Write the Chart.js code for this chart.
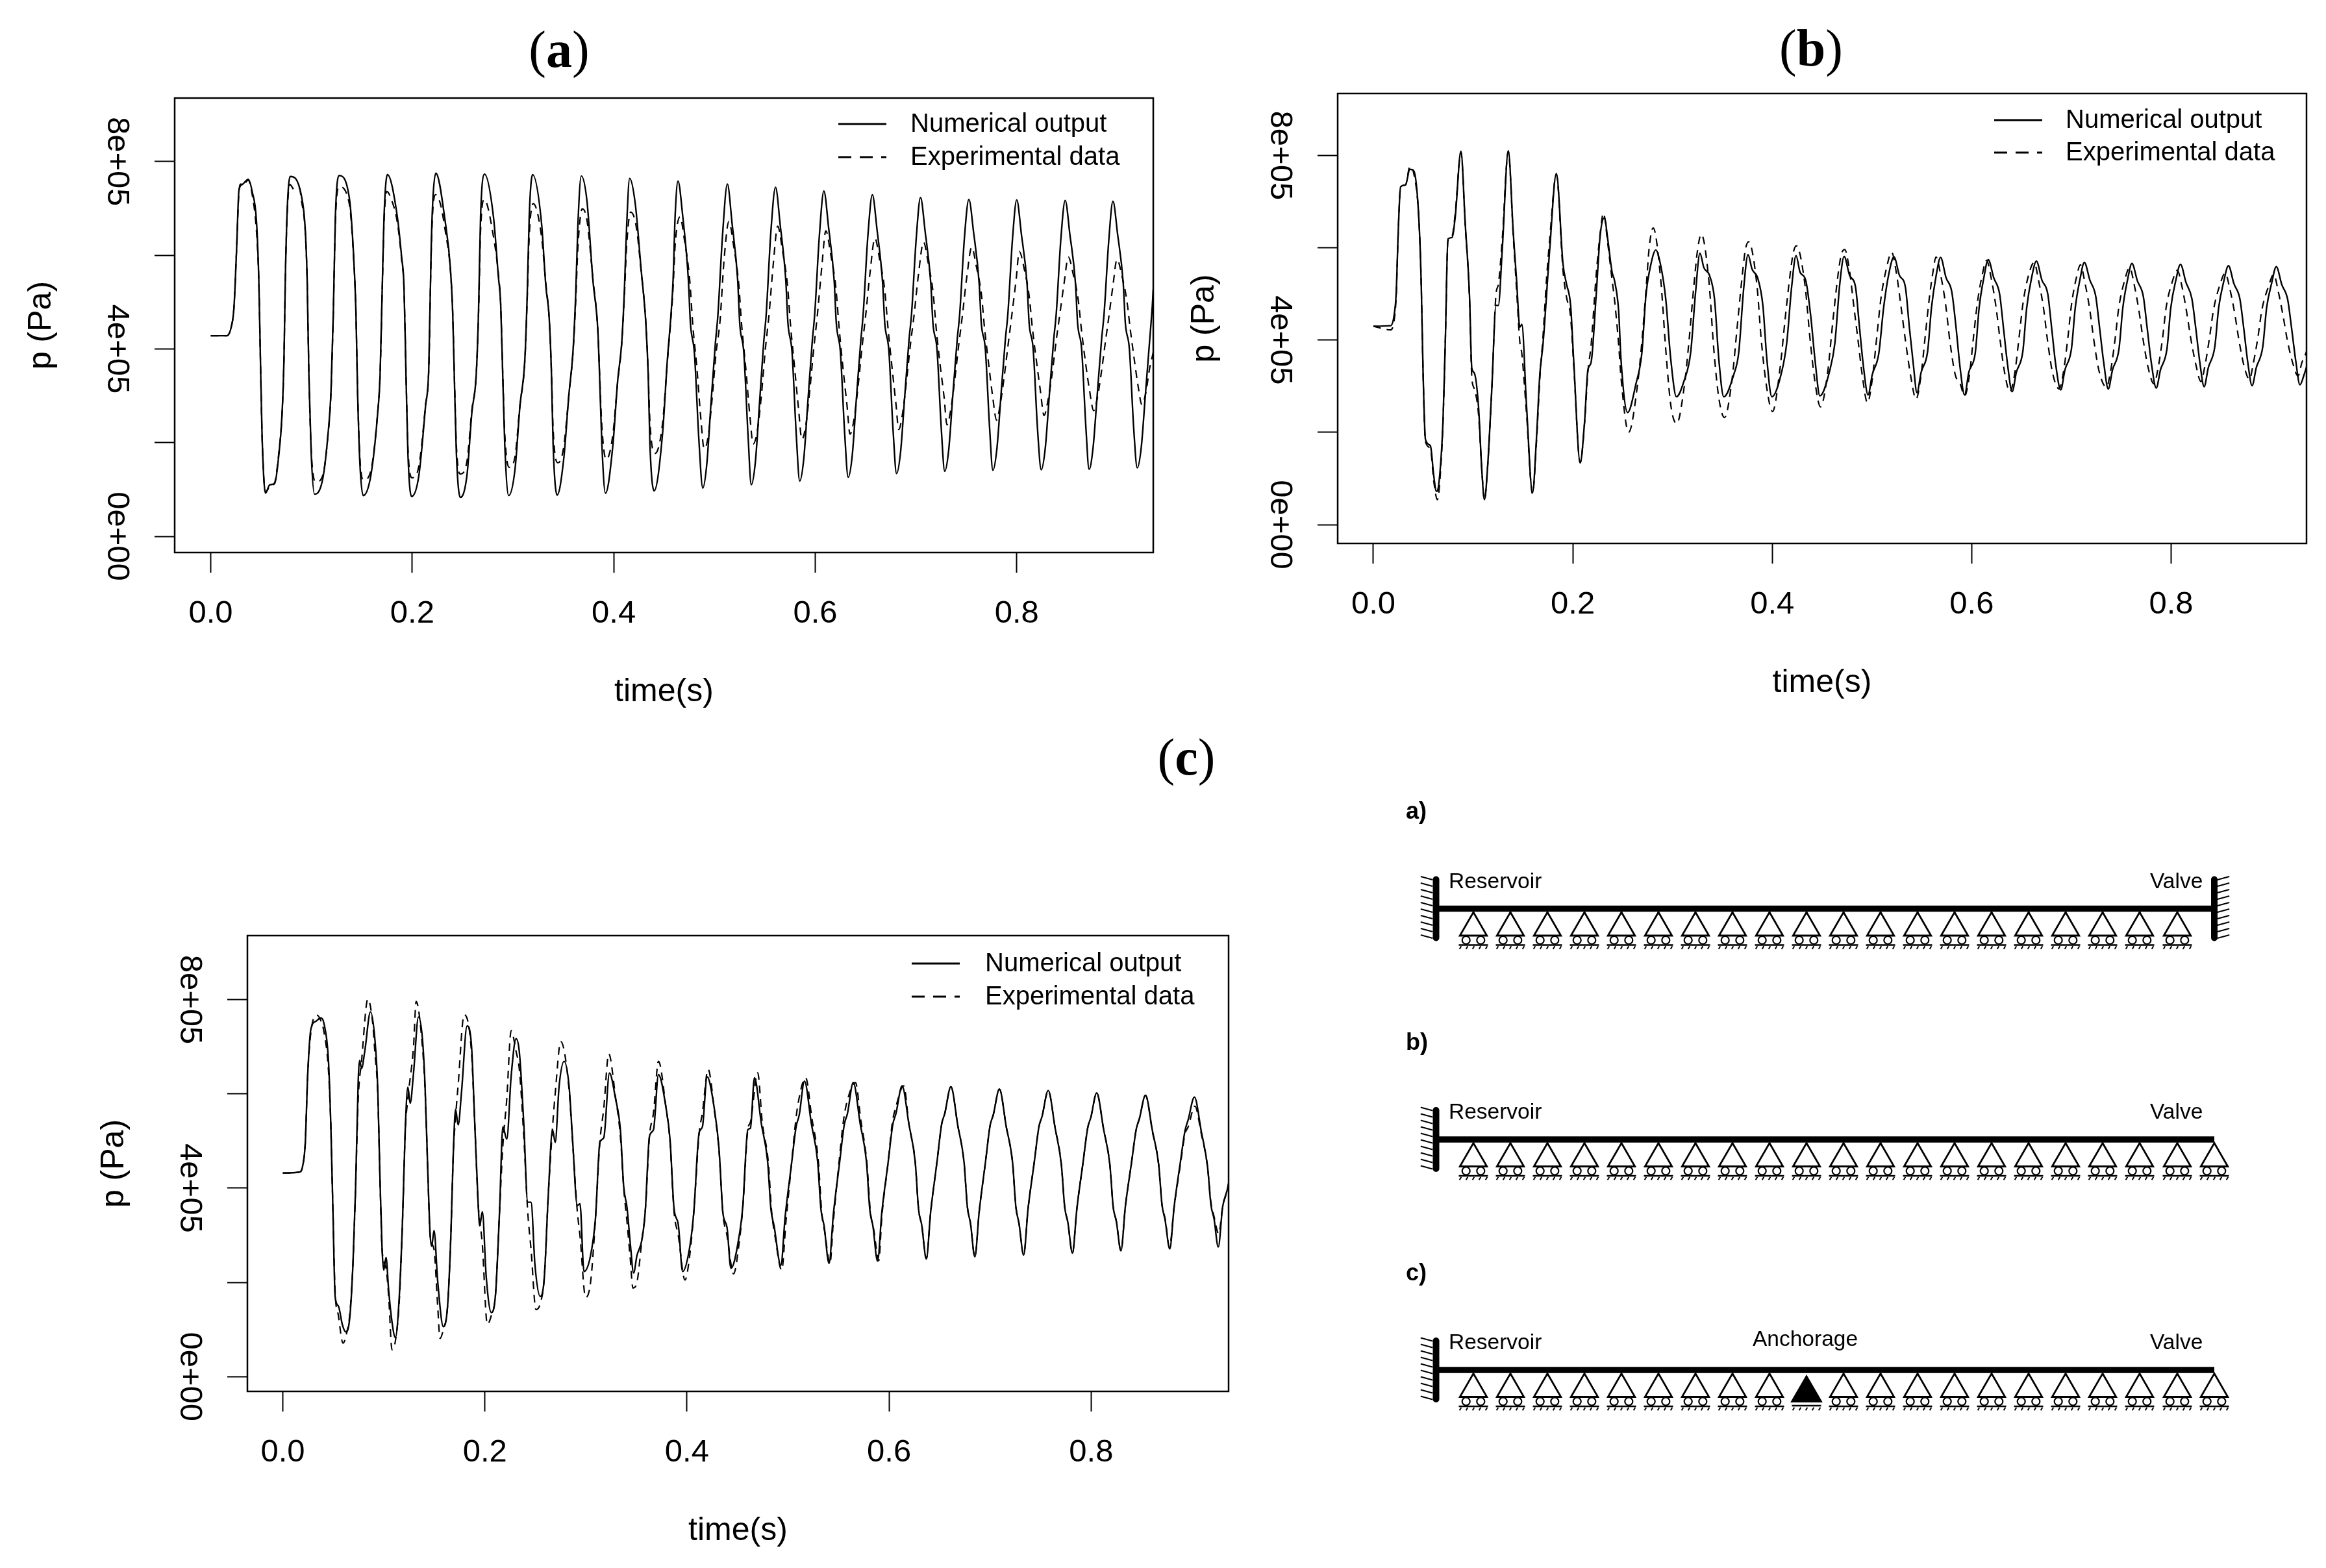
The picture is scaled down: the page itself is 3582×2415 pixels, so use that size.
<!DOCTYPE html>
<html>
<head>
<meta charset="utf-8">
<title>Pressure transients</title>
<script src="https://cdn.jsdelivr.net/npm/chart.js@4"></script>
<style>
  html, body { margin: 0; background: #fff; }
  body { position: relative; width: 3582px; height: 2415px; overflow: hidden; }
  canvas { position: absolute; }
  .panel-title { position: absolute; transform: translate(-50%, -50%); font: 80px "Liberation Serif", serif; color: #000; }
</style>
</head>
<body>
<div class="panel-title" style="left:861px;top:76px">(<b>a</b>)</div>
<div class="panel-title" style="left:2789px;top:74px">(<b>b</b>)</div>
<div class="panel-title" style="left:1827px;top:1166px">(<b>c</b>)</div>
<canvas id="panelA"></canvas>
<canvas id="panelB"></canvas>
<canvas id="panelC"></canvas>
<canvas id="schematic"></canvas>
<script>
  "use strict";

  const timeTicks = [0, 0.2, 0.4, 0.6, 0.8];
  const timeTickLabels = ["0.0", "0.2", "0.4", "0.6", "0.8"];
  // pressure is kept in units of 1e5 Pa
  const pressureTicks = [0, 2, 4, 6, 8];
  const pressureTickLabels = ["0e+00", "", "4e+05", "", "8e+05"];
  const seriesNames = ["Numerical output", "Experimental data"];

  // [time s, pressure 1e5 Pa]
  const aNumerical = [[0,4.28],[.016,4.28],[.0207,4.5],[.023,4.87],[.0257,6.15],[.028,7.39],[.0313,7.51],[.0372,7.62],[.0411,7.36],[.0454,6.72],[.0477,5.47],[.0493,3.79],[.051,2.11],[.0543,.92],[.0586,1.1],[.0635,1.13],[.0674,1.7],[.0707,2.58],[.0727,3.79],[.074,5.47],[.076,7.02],[.0789,7.68],
    [.0898,7.29],[.0938,6.55],[.0957,5.47],[.0974,3.45],[.0997,1.77],[.103,.9],[.1112,1.23],[.1161,2.11],[.1194,3.12],[.1217,4.8],[.1237,6.82],[.1273,7.7],
    [.1375,7.23],[.1414,6.15],[.1441,4.8],[.1457,3.12],[.148,1.57],[.1513,.87],[.1589,1.3],[.1655,2.58],[.1681,3.45],[.1704,5.47],[.172,6.82],[.1753,7.72],
    [.1852,6.82],[.1895,5.95],[.1918,5.34],[.1938,3.45],[.1957,1.77],[.1993,.85],[.2066,1.3],[.2132,2.78],[.2164,3.59],[.2188,6.15],[.2204,7.16],[.2234,7.75],
    [.2329,6.69],[.2378,5.74],[.2401,4.8],[.2421,3.12],[.2438,1.77],[.2477,.83],[.2543,1.3],[.2592,2.65],[.2635,3.45],[.2658,4.8],[.2678,6.82],[.2717,7.73],
    [.2806,6.82],[.2855,5.54],[.2878,4.94],[.2898,3.45],[.2918,1.97],[.2957,.87],[.302,1.43],[.3069,2.78],[.3118,3.79],[.3141,5.14],[.3161,6.82],[.3194,7.72],
    [.3283,6.69],[.3326,5.34],[.3359,4.67],[.3382,3.45],[.3398,1.97],[.3438,.88],[.3503,1.64],[.3556,3.05],[.3595,3.93],[.3622,5.14],[.3645,6.69],[.3678,7.69],
    [.3734,7.16],[.3793,5.47],[.3842,4.4],[.3859,3.45],[.3882,1.97],[.3918,.92],[.399,1.91],[.4039,3.32],[.4079,4.13],[.4105,5.21],[.4128,6.62],[.4158,7.64],
    [.4214,7.09],[.427,5.74],[.4319,4.53],[.4342,3.45],[.4359,1.97],[.4401,.97],[.4484,2.18],[.4533,3.79],[.4566,4.67],[.4589,5.47],[.4609,6.82],[.4638,7.58],
    [.4684,6.85],[.474,5.5],[.4761,4.55],[.4801,3.9],[.4844,2.1],[.4884,1.03],[.4924,1.55],[.4964,2.8],[.5008,4.1],[.5033,4.7],[.5079,6.4],[.5128,7.52],
    [.5174,6.69],[.523,5.47],[.5251,4.53],[.5291,3.92],[.5334,2.11],[.5365,1.1],[.5405,1.57],[.5445,2.78],[.5488,4.13],[.5513,4.73],[.5559,6.48],[.5606,7.45],
    [.5652,6.65],[.5708,5.45],[.5729,4.55],[.5769,3.95],[.5812,2.15],[.5846,1.18],[.5886,1.65],[.5926,2.85],[.597,4.15],[.5995,4.75],[.6041,6.42],[.6086,7.37],
    [.6132,6.6],[.6188,5.45],[.6209,4.55],[.6249,3.95],[.6292,2.2],[.6327,1.26],[.6367,1.72],[.6407,2.9],[.6451,4.15],[.6476,4.75],[.6522,6.4],[.6567,7.29],
    [.6613,6.55],[.6669,5.4],[.669,4.55],[.673,3.98],[.6773,2.25],[.6807,1.34],[.6847,1.8],[.6887,2.95],[.6931,4.2],[.6956,4.75],[.7002,6.35],[.7045,7.23],
    [.7091,6.5],[.7147,5.4],[.7168,4.55],[.7208,4],[.7251,2.3],[.7285,1.39],[.7325,1.85],[.7365,3],[.7409,4.2],[.7434,4.75],[.748,6.35],[.7525,7.19],
    [.7571,6.5],[.7627,5.4],[.7648,4.55],[.7688,4],[.7731,2.3],[.7763,1.41],[.7803,1.87],[.7843,3],[.7887,4.2],[.7912,4.75],[.7958,6.35],[.8,7.18],
    [.8046,6.45],[.8102,5.4],[.8123,4.55],[.8163,4],[.8206,2.3],[.8243,1.42],[.8283,1.88],[.8323,3],[.8367,4.2],[.8392,4.75],[.8438,6.35],[.8481,7.17],
    [.8527,6.45],[.8583,5.4],[.8604,4.55],[.8644,4],[.8687,2.3],[.8718,1.43],[.8758,1.9],[.8798,3],[.8842,4.2],[.8867,4.75],[.8913,6.3],[.8955,7.15],
    [.9001,6.45],[.9057,5.4],[.9078,4.55],[.9118,4],[.9161,2.3],[.9196,1.46],[.9236,1.9],[.9276,3],[.932,4.2],[.9345,4.9],[.9355,5.27],[.94,6.2]];

  const aExperimental = [[0,4.28],[.016,4.28],[.0207,4.5],[.023,4.87],[.0257,6.15],[.028,7.35],[.03,7.52],[.0313,7.48],[.0372,7.6],[.0411,7.3],[.0454,6.5],[.0477,5.47],[.0493,3.79],[.051,2.11],[.0543,.95],[.0586,1.05],[.0635,1.15],[.0674,1.75],[.0707,2.58],[.0727,3.79],[.074,5.47],[.076,6.95],[.0785,7.51],
    [.0832,7.39],[.0882,7.43],[.0898,7.2],[.0938,6.5],[.0957,5.47],[.0974,3.5],[.0997,1.85],[.1046,1.16],[.1112,1.3],[.1161,2.1],[.1194,3.1],[.1217,4.8],[.1237,6.7],[.1273,7.46],
    [.1375,7.1],[.1414,6.1],[.1441,4.8],[.1457,3.15],[.148,1.7],[.1516,1.2],[.1589,1.4],[.1655,2.6],[.1681,3.45],[.1704,5.4],[.172,6.7],[.1747,7.36],
    [.1793,7.19],[.1852,6.7],[.1895,5.9],[.1918,5.3],[.1938,3.5],[.1957,1.9],[.1999,1.25],[.2066,1.5],[.2132,2.8],[.2164,3.55],[.2188,6.05],[.2204,6.95],[.2231,7.29],
    [.228,7.09],[.2329,6.5],[.2378,5.7],[.2401,4.8],[.2421,3.2],[.2438,1.95],[.2477,1.33],[.2543,1.6],[.2592,2.7],[.2635,3.45],[.2658,4.75],[.2678,6.5],[.2714,7.19],
    [.2806,6.4],[.2855,5.6],[.2878,4.95],[.2898,3.5],[.2918,2.2],[.2963,1.47],[.302,1.7],[.3069,2.8],[.3118,3.75],[.3141,5.05],[.3161,6.4],[.3201,7.1],
    [.3283,6.4],[.3326,5.4],[.3359,4.65],[.3382,3.5],[.3398,2.3],[.3448,1.57],[.3503,1.9],[.3556,3.05],[.3595,3.9],[.3622,5],[.3645,6.2],[.3688,6.99],
    [.3734,6.75],[.3793,5.5],[.3842,4.4],[.3859,3.5],[.3882,2.35],[.3925,1.64],[.399,2.15],[.4039,3.3],[.4079,4.1],[.4105,5.1],[.4128,6.2],[.4168,6.92],
    [.4224,6.6],[.427,5.7],[.4319,4.55],[.4342,3.5],[.4359,2.45],[.4411,1.77],[.4484,2.4],[.4533,3.75],[.4566,4.6],[.4589,5.3],[.4609,6.2],[.4658,6.82],
    [.47,6.35],[.4755,5.45],[.4785,4.5],[.4825,3.6],[.4865,2.5],[.4897,1.87],[.4935,2.1],[.4975,2.9],[.5015,3.9],[.5055,4.6],[.5095,5.9],[.5143,6.72],
    [.519,6.2],[.524,5.4],[.527,4.5],[.531,3.6],[.535,2.6],[.5384,1.97],[.5425,2.25],[.5465,3],[.5505,4],[.554,4.7],[.5585,5.85],[.5627,6.62],
    [.5675,6.1],[.5725,5.35],[.5755,4.5],[.5795,3.6],[.5835,2.7],[.5867,2.07],[.5905,2.35],[.5945,3.1],[.5985,4],[.602,4.7],[.6065,5.75],[.6105,6.52],
    [.6155,6],[.6205,5.3],[.6235,4.5],[.6275,3.6],[.6315,2.8],[.6345,2.18],[.6385,2.5],[.6425,3.2],[.6465,4.05],[.65,4.7],[.6545,5.65],[.6592,6.36],
    [.664,5.9],[.669,5.25],[.672,4.5],[.676,3.65],[.68,2.85],[.6829,2.28],[.6865,2.6],[.6905,3.3],[.6945,4.1],[.698,4.7],[.7025,5.6],[.7075,6.28],
    [.712,5.85],[.717,5.2],[.72,4.45],[.724,3.65],[.728,2.95],[.7307,2.38],[.7345,2.7],[.7385,3.35],[.7425,4.1],[.746,4.7],[.7505,5.55],[.7553,6.17],
    [.76,5.75],[.765,5.15],[.768,4.45],[.772,3.7],[.776,3],[.78,2.48],[.7835,2.8],[.7875,3.4],[.7915,4.1],[.795,4.7],[.7995,5.5],[.8025,6.08],
    [.8075,5.7],[.8125,5.1],[.8155,4.45],[.8195,3.75],[.8235,3.1],[.8271,2.58],[.831,2.9],[.835,3.45],[.839,4.15],[.8425,4.7],[.847,5.4],[.8512,5.96],
    [.856,5.6],[.861,5.05],[.864,4.45],[.868,3.75],[.872,3.15],[.8764,2.68],[.88,2.95],[.884,3.5],[.888,4.15],[.8915,4.7],[.8955,5.35],[.8995,5.91],
    [.9045,5.55],[.9095,5],[.9125,4.45],[.9165,3.8],[.9205,3.2],[.9242,2.81],[.928,3.05],[.932,3.6],[.9355,3.93],[.94,4.5]];

  const bNumerical = [[0,4.3],[.0173,4.31],[.0206,4.51],[.0229,5.03],[.0249,6.33],[.0273,7.32],[.0322,7.36],[.0366,7.7],[.0406,7.66],[.0455,6.67],[.0479,5.3],[.0499,3.25],[.0522,1.85],[.0572,1.71],[.0605,1.07],[.0632,.72],[.0655,.86],[.0698,2.23],[.0721,3.93],[.0748,6.19],[.0788,6.22],[.0821,6.67],[.0878,8.09],
    [.0921,6.53],[.0964,4.96],[.0987,3.39],[.1011,3.29],[.1054,2.57],[.1087,1.2],[.1114,.54],[.1144,1.2],[.1187,2.91],[.123,4.75],[.1253,4.75],[.1293,5.98],[.1353,8.1],
    [.1403,6.32],[.1436,5.3],[.1469,4.28],[.1489,4.34],[.1536,2.57],[.1596,.69],[.1636,1.89],[.1669,3.25],[.1702,3.93],[.1769,5.98],[.1835,7.61],
    [.1902,5.64],[.1935,5.23],[.1978,4.75],[.2008,3.59],[.2074,1.34],[.2118,2.23],[.2151,3.35],[.2184,3.52],[.2234,4.96],[.2274,6.26],[.2317,6.65],
    [.235,6.19],[.2394,5.47],[.2417,5.3],[.246,4.62],[.2483,3.59],[.255,2.43],[.2633,3.05],[.2693,3.73],[.2733,4.96],[.2783,5.64],[.2832,5.95],
    [.2882,5.61],[.2932,4.89],[.2982,3.59],[.3039,2.77],[.3115,3.11],[.3182,3.73],[.3231,5.03],[.3275,5.88],
    [.3314,5.57],[.3371,5.4],[.3421,4.89],[.3464,3.59],[.3514,2.77],[.3614,3.25],[.3664,3.73],[.3713,5.1],[.3757,5.85],
    [.3797,5.54],[.3856,5.33],[.3906,4.75],[.3946,3.59],[.3996,2.77],[.4096,3.32],[.4145,3.93],[.4195,5.16],[.4239,5.83],
    [.4279,5.47],[.4335,5.3],[.4388,4.48],[.4428,3.59],[.4478,2.79],[.4578,3.35],[.4628,3.93],[.4678,5.23],[.4721,5.81],
    [.4776,5.4],[.4835,5.15],[.4874,4.3],[.4916,3.4],[.4961,2.81],[.5003,3.25],[.5068,3.7],[.5117,4.7],[.5166,5.4],[.5221,5.8],
    [.5276,5.4],[.5335,5.15],[.5374,4.3],[.5416,3.45],[.5451,2.86],[.5493,3.3],[.5558,3.75],[.5597,4.7],[.5644,5.4],[.5688,5.79],
    [.5743,5.35],[.58,5.05],[.5842,4.3],[.5884,3.4],[.5929,2.81],[.5971,3.3],[.6036,3.72],[.6075,4.7],[.6122,5.35],[.6166,5.74],
    [.6221,5.35],[.628,5],[.6319,4.26],[.6361,3.45],[.6406,2.88],[.6448,3.3],[.6513,3.75],[.6552,4.7],[.6601,5.35],[.6649,5.71],
    [.6704,5.3],[.6763,5],[.6802,4.26],[.6844,3.45],[.6893,2.92],[.6935,3.35],[.7,3.8],[.7039,4.7],[.7085,5.3],[.713,5.68],
    [.7185,5.3],[.7244,4.95],[.7283,4.26],[.7325,3.5],[.737,2.94],[.7412,3.35],[.7477,3.8],[.7516,4.7],[.7563,5.3],[.7607,5.66],
    [.7662,5.28],[.7721,4.95],[.776,4.26],[.7802,3.5],[.7851,2.96],[.7893,3.35],[.7958,3.8],[.7997,4.7],[.8046,5.28],[.8094,5.64],
    [.8149,5.25],[.8208,4.9],[.8247,4.26],[.8289,3.5],[.8331,2.99],[.8373,3.4],[.8438,3.85],[.8477,4.7],[.8526,5.25],[.8575,5.61],
    [.863,5.22],[.8689,4.9],[.8728,4.26],[.877,3.5],[.8812,3.01],[.8854,3.4],[.8919,3.85],[.8958,4.7],[.9007,5.22],[.9055,5.59],
    [.911,5.2],[.9169,4.88],[.9208,4.26],[.925,3.55],[.9292,3.03],[.9334,3.25],[.9364,3.46],[.94,3.75]];

  const bExperimental = [[0,4.3],[.0173,4.22],[.0206,4.4],[.0229,4.95],[.0249,6.33],[.0273,7.32],[.0322,7.36],[.0366,7.76],[.0406,7.6],[.0455,6.67],[.0479,5.3],[.0499,3.25],[.0522,1.8],[.0572,1.65],[.0605,.95],[.0642,.54],[.0665,.9],[.0698,2.2],[.0721,3.93],[.0748,6.15],[.0788,6.25],[.0821,6.75],[.0878,8.07],
    [.0921,6.5],[.0964,4.9],[.0987,3.2],[.1011,2.95],[.1054,2.4],[.1087,1.2],[.1114,.54],[.1144,1.2],[.1187,2.9],[.123,5],[.1253,5.2],[.1293,6.2],[.1353,8.09],
    [.1403,6.25],[.1436,5.1],[.1469,3.95],[.1489,3.7],[.1536,2.4],[.1596,.67],[.1636,1.8],[.1669,3.15],[.1702,4.1],[.1736,5.3],[.1769,6.2],[.1835,7.59],
    [.1902,5.5],[.1935,4.95],[.1978,4.5],[.2008,3.5],[.2074,1.34],[.2118,2.2],[.2151,3.3],[.2184,3.9],[.2234,5.4],[.2274,6.3],[.2307,6.75],
    [.235,6.1],[.2394,5.3],[.2417,4.9],[.246,3.9],[.2483,3.2],[.256,2],[.265,3.05],[.2693,3.97],[.2733,5.05],[.2766,6],[.2806,6.43],
    [.2882,5.3],[.2932,3.8],[.2982,2.6],[.3042,2.19],[.3115,2.95],[.3165,3.97],[.3215,5.2],[.3248,5.9],[.3288,6.29],
    [.3364,5.3],[.3414,3.8],[.3464,2.75],[.3521,2.32],[.3597,3.15],[.3647,4.25],[.3697,5.35],[.373,5.95],[.3763,6.13],
    [.3846,5.2],[.389,4],[.3946,2.95],[.4003,2.45],[.4079,3.4],[.4129,4.45],[.4178,5.4],[.4212,5.9],[.4242,6.04],
    [.4328,5.2],[.4378,4.05],[.4428,3.1],[.4484,2.55],[.4553,3.25],[.461,4.45],[.4659,5.4],[.4692,5.85],[.4727,5.96],
    [.4775,5.5],[.482,4.7],[.486,4],[.4905,3.2],[.4955,2.64],[.5,3.1],[.505,4.1],[.509,4.9],[.5145,5.55],[.5198,5.9],
    [.5245,5.45],[.529,4.75],[.5335,4],[.539,3.2],[.5442,2.72],[.549,3.2],[.5535,4.1],[.5575,4.9],[.561,5.45],[.5643,5.8],
    [.569,5.4],[.574,4.75],[.578,4],[.5835,3.25],[.5885,3.05],[.5929,2.79],[.5975,3.2],[.602,4.1],[.606,4.85],[.6105,5.4],[.6149,5.73],
    [.6195,5.35],[.6245,4.7],[.6285,4],[.633,3.3],[.6383,2.88],[.643,3.25],[.6475,4.05],[.6515,4.8],[.657,5.4],[.6627,5.68],
    [.667,5.3],[.672,4.7],[.676,4],[.681,3.3],[.6877,2.94],[.692,3.3],[.6965,4.05],[.7,4.75],[.705,5.35],[.7091,5.63],
    [.7135,5.25],[.7185,4.65],[.7225,4],[.7275,3.35],[.7351,2.98],[.7395,3.35],[.744,4.05],[.7475,4.7],[.7535,5.3],[.7584,5.57],
    [.763,5.2],[.768,4.6],[.772,4],[.777,3.4],[.7828,3.05],[.787,3.4],[.7915,4.05],[.795,4.7],[.801,5.25],[.8062,5.51],
    [.811,5.15],[.816,4.55],[.82,4],[.825,3.45],[.8299,3.1],[.834,3.45],[.8385,4.05],[.8425,4.65],[.849,5.2],[.8542,5.45],
    [.859,5.1],[.864,4.55],[.868,4],[.873,3.45],[.8786,3.15],[.8825,3.5],[.887,4.05],[.891,4.65],[.8975,5.15],[.9029,5.42],
    [.9075,5.05],[.9125,4.5],[.9165,4],[.922,3.5],[.9273,3.22],[.931,3.5],[.9364,3.8],[.94,4.2]];

  const cNumerical = [[0,4.32],[.0164,4.34],[.0197,4.47],[.0223,4.97],[.0246,6.37],[.0278,7.37],[.0328,7.54],[.0377,7.61],[.0409,7.48],[.0452,6.71],[.0475,5.37],[.0498,3.37],[.0518,1.7],[.055,1.5],[.059,1.1],[.0622,.95],[.0662,1.23],[.0694,2.36],[.0721,4.03],[.0747,6.31],[.076,6.71],[.078,6.54],[.0812,6.91],[.0868,7.74],
    [.0911,7.17],[.094,6.11],[.096,4.37],[.0983,2.7],[.0999,2.26],[.1022,2.53],[.1048,1.83],[.1081,1.16],[.1114,.83],[.1153,1.7],[.1186,3.37],[.1212,5.24],[.1238,6.14],[.1261,5.8],[.1294,6.44],[.1343,7.63],
    [.1382,7.17],[.1408,6.17],[.1435,4.37],[.1458,3.03],[.1474,2.77],[.1497,3.1],[.1533,2.03],[.1589,1.06],[.1631,1.5],[.1664,3.03],[.1687,4.7],[.171,5.67],[.1736,5.34],[.1769,6.04],[.1824,7.44],
    [.1867,7.04],[.19,5.37],[.1933,3.7],[.1949,3.2],[.1975,3.5],[.2014,2.1],[.2064,1.36],[.2106,1.76],[.2145,3.5],[.2178,5.3],[.2217,5.04],[.226,6.37],[.2309,7.17],
    [.2342,6.87],[.2385,5.37],[.2424,3.7],[.2457,3.7],[.2496,2.36],[.2548,1.7],[.2588,2.1],[.2627,3.83],[.267,5.24],[.2696,4.97],[.2735,6.17],[.2784,6.69],
    [.2833,6.17],[.2866,5.1],[.2915,3.63],[.2941,3.67],[.2981,2.23],[.3046,2.57],[.3095,3.37],[.3138,4.97],[.3177,5.07],[.3233,6.44],
    [.3292,5.91],[.3341,5.24],[.3374,4.03],[.3406,3.6],[.3439,2.83],[.3472,2.2],[.3505,2.57],[.3554,2.9],[.3587,3.5],[.3629,5.1],[.3669,5.24],[.3718,6.41],
    [.3793,5.7],[.3832,5.04],[.3872,3.57],[.3914,3.23],[.3957,2.23],[.4029,2.77],[.4068,3.5],[.412,5.17],[.4153,5.3],[.4199,6.36],
    [.4274,5.64],[.4317,4.84],[.4356,3.47],[.4396,3.17],[.4435,2.3],[.452,3.03],[.4553,3.63],[.4602,5.24],[.4628,5.27],[.4668,6.34],
    [.4736,5.37],[.4798,4.57],[.4831,3.55],[.4862,3.2],[.4929,2.36],[.4972,3.4],[.5034,4.5],[.508,5.3],[.5111,5.55],[.5163,6.27],
    [.5231,5.37],[.5293,4.57],[.5326,3.55],[.5357,3.2],[.5406,2.4],[.5449,3.45],[.5511,4.55],[.5557,5.35],[.5588,5.58],[.5646,6.24],
    [.5714,5.37],[.5776,4.57],[.5809,3.55],[.584,3.2],[.5886,2.45],[.5929,3.5],[.5991,4.55],[.6037,5.35],[.6068,5.58],[.6129,6.17],
    [.6197,5.35],[.6259,4.55],[.6292,3.55],[.6323,3.22],[.6369,2.5],[.6412,3.5],[.6474,4.55],[.652,5.35],[.6551,5.58],[.6612,6.15],
    [.668,5.33],[.6742,4.55],[.6775,3.6],[.6806,3.25],[.6849,2.54],[.6892,3.5],[.6954,4.55],[.7,5.33],[.7031,5.55],[.7092,6.1],
    [.716,5.3],[.7222,4.55],[.7255,3.6],[.7286,3.25],[.7332,2.58],[.7375,3.55],[.7437,4.55],[.7483,5.3],[.7514,5.52],[.7575,6.07],
    [.7643,5.28],[.7705,4.5],[.7738,3.6],[.7769,3.28],[.7815,2.62],[.7858,3.55],[.792,4.55],[.7966,5.28],[.7997,5.5],[.8055,6.02],
    [.8123,5.25],[.8185,4.5],[.8218,3.6],[.8249,3.3],[.8295,2.67],[.8338,3.6],[.84,4.55],[.8446,5.25],[.8477,5.47],[.8538,5.97],
    [.8606,5.22],[.8668,4.5],[.8701,3.65],[.8732,3.32],[.8778,2.71],[.8821,3.6],[.8883,4.55],[.8929,5.22],[.896,5.45],[.9022,5.93],
    [.909,5.2],[.9152,4.45],[.9185,3.65],[.9216,3.35],[.9258,2.75],[.9301,3.6],[.936,4.1],[.94,4.9]];

  const cExperimental = [[0,4.32],[.0164,4.34],[.0197,4.47],[.0223,4.97],[.0246,6.37],[.0278,7.3],[.0337,7.67],[.0377,7.55],[.0409,7.3],[.0452,6.5],[.0475,5.37],[.0498,3.37],[.0518,1.8],[.055,1.3],[.0596,.71],[.0635,.95],[.0662,1.3],[.0694,2.36],[.0721,4.03],[.0747,5.9],[.078,6.7],[.0842,8.01],
    [.089,7.5],[.0911,6.9],[.094,6],[.096,4.37],[.0983,2.7],[.1022,2.3],[.1048,1.7],[.1081,.57],[.1114,.75],[.1153,1.6],[.1186,3.37],[.1212,5.2],[.1238,5.9],[.1294,7],[.132,7.96],
    [.1382,7],[.1408,6.1],[.1435,4.37],[.1458,3],[.1497,2.7],[.1533,1.5],[.1556,.81],[.1589,1],[.1631,1.5],[.1664,3.03],[.1687,4.7],[.171,5.5],[.1736,6.2],[.1795,7.68],
    [.1867,6.9],[.19,5.37],[.1933,3.7],[.1975,2.8],[.2024,1.11],[.2064,1.3],[.2106,1.76],[.2145,3.5],[.2178,4.9],[.2217,5.9],[.226,7.34],
    [.2309,6.9],[.2342,6.5],[.2385,5.1],[.2424,3.5],[.2457,2.7],[.2506,1.42],[.2548,1.55],[.2588,2.1],[.2627,3.83],[.267,5.3],[.2696,6],[.2751,7.11],
    [.2833,6.1],[.2866,5.05],[.2915,3.5],[.2941,3],[.2997,1.68],[.3046,2],[.3095,3.37],[.3138,4.97],[.3177,5.7],[.3226,6.85],
    [.3292,5.95],[.3341,5.1],[.3374,4],[.3406,3.3],[.3439,2.5],[.3465,1.88],[.3505,2],[.3554,2.9],[.3587,3.5],[.3629,5.1],[.3669,5.6],[.3718,6.69],
    [.3793,5.7],[.3832,5],[.3872,3.5],[.3914,3],[.398,2.05],[.4029,2.6],[.4068,3.5],[.412,5.15],[.4153,5.6],[.4209,6.52],
    [.4274,5.6],[.4317,4.8],[.4356,3.45],[.4396,3],[.4461,2.18],[.452,2.9],[.4553,3.6],[.4602,5.24],[.4628,5.4],[.47,6.45],
    [.4745,5.4],[.4805,4.55],[.4838,3.5],[.487,3],[.4938,2.26],[.498,3.3],[.5034,4.5],[.5075,5.4],[.51,5.8],[.5175,6.34],
    [.5235,5.5],[.53,4.57],[.5335,3.45],[.5365,3.05],[.5415,2.4],[.5449,3.3],[.5505,4.55],[.555,5.45],[.558,5.8],[.5668,6.24],
    [.572,5.45],[.578,4.55],[.5815,3.5],[.585,3.1],[.5898,2.46],[.5929,3.4],[.5991,4.55],[.6033,5.4],[.6065,5.7],[.6145,6.17],
    [.6197,5.35],[.6259,4.55],[.6292,3.55],[.6323,3.22],[.6369,2.5],[.6412,3.5],[.6474,4.55],[.652,5.35],[.6551,5.58],[.6612,6.15],
    [.668,5.33],[.6742,4.55],[.6775,3.6],[.6806,3.25],[.6849,2.54],[.6892,3.5],[.6954,4.55],[.7,5.33],[.7031,5.55],[.7092,6.1],
    [.716,5.3],[.7222,4.55],[.7255,3.6],[.7286,3.25],[.7332,2.58],[.7375,3.55],[.7437,4.55],[.7483,5.3],[.7514,5.52],[.7575,6.07],
    [.7643,5.28],[.7705,4.5],[.7738,3.6],[.7769,3.28],[.7815,2.62],[.7858,3.55],[.792,4.55],[.7966,5.28],[.7997,5.5],[.8055,6.02],
    [.8123,5.25],[.8185,4.5],[.8218,3.6],[.8249,3.3],[.8295,2.67],[.8338,3.6],[.84,4.55],[.8446,5.25],[.8477,5.47],[.8538,5.97],
    [.8606,5.2],[.8668,4.5],[.8701,3.65],[.8732,3.35],[.8775,2.75],[.8821,3.6],[.8883,4.5],[.8929,5.15],[.896,5.3],[.9027,5.74],
    [.909,5.15],[.9152,4.45],[.9185,3.7],[.9216,3.4],[.9262,3.03],[.9301,3.6],[.936,4.1],[.94,4.9]];

  // schematic: support positions along each pipe, in page pixels
  const supportsA = [2269,2326,2383,2440,2497,2554,2611,2668,2725,2782,2839,2896,2953,3010,3067,3124,3181,3238,3295,3353];
  const supportsB = [2269,2326,2383,2440,2497,2554,2611,2668,2725,2782,2839,2896,2953,3010,3067,3124,3181,3238,3295,3353,3410];
  const supportsC = [2269,2326,2383,2440,2497,2554,2611,2668,2725,2839,2896,2953,3010,3067,3124,3181,3238,3295,3353,3410];
  const anchorC = [2782];

  const SANS = '"Liberation Sans", Arial, sans-serif';

  // R style box round the plot plus the legend in its top right corner
  const boxAndLegend = {
    id: "boxAndLegend",
    afterDraw(chart, args, opts) {
      const { ctx, chartArea: a } = chart;
      ctx.save();
      ctx.strokeStyle = "#000";
      ctx.lineWidth = 2.5;
      ctx.strokeRect(a.left, a.top, a.right - a.left, a.bottom - a.top);
      ctx.font = "40px " + SANS;
      ctx.fillStyle = "#000";
      ctx.textBaseline = "middle";
      chart.data.datasets.forEach(function (ds, i) {
        const y = a.top + opts.rowY[i];
        ctx.beginPath();
        ctx.setLineDash(i === 0 ? [] : [20, 13]);
        ctx.lineWidth = 2.8;
        ctx.moveTo(a.right - opts.lineX, y);
        ctx.lineTo(a.right - opts.lineX + 74, y);
        ctx.stroke();
        ctx.setLineDash([]);
        ctx.fillText(ds.label, a.right - opts.textX, y + 1);
      });
      ctx.restore();
    },
  };

  function makePanel(id, plot, xRange, yRange, numerical, experimental, legendOpts) {
    const marginLeft = 260, marginBottom = 260, marginTop = 40, marginRight = 10;
    const canvas = document.getElementById(id);
    canvas.width = plot.right - plot.left + marginLeft + marginRight;
    canvas.height = plot.bottom - plot.top + marginTop + marginBottom;
    canvas.style.left = plot.left - marginLeft + "px";
    canvas.style.top = plot.top - marginTop + "px";

    return new Chart(canvas.getContext("2d"), {
      type: "line",
      data: {
        datasets: [
          {
            label: seriesNames[0],
            data: numerical.map((d) => ({ x: d[0], y: d[1] })),
            borderColor: "#000",
            borderWidth: 2.4,
            pointRadius: 0,
            cubicInterpolationMode: "monotone",
          },
          {
            label: seriesNames[1],
            data: experimental.map((d) => ({ x: d[0], y: d[1] })),
            borderColor: "#000",
            borderWidth: 2.2,
            borderDash: [12, 9],
            pointRadius: 0,
            cubicInterpolationMode: "monotone",
          },
        ],
      },
      options: {
        responsive: false,
        animation: false,
        devicePixelRatio: 1,
        layout: { padding: { left: 0, right: marginRight, top: marginTop, bottom: 0 } },
        plugins: { legend: { display: false }, tooltip: { enabled: false }, boxAndLegend: legendOpts },
        scales: {
          x: {
            type: "linear",
            min: xRange[0],
            max: xRange[1],
            afterFit(scale) { scale.height = marginBottom; },
            afterBuildTicks(scale) { scale.ticks = timeTicks.map((v) => ({ value: v })); },
            border: { display: false },
            grid: { drawOnChartArea: false, color: "#000", tickLength: 31, tickWidth: 2 },
            ticks: {
              autoSkip: false,
              maxRotation: 0,
              padding: 34,
              color: "#000",
              font: { family: SANS, size: 49 },
              callback: (v, i) => timeTickLabels[i],
            },
            title: {
              display: true,
              text: "time(s)",
              color: "#000",
              font: { family: SANS, size: 50 },
              padding: { top: 15, bottom: 15 },
            },
          },
          y: {
            type: "linear",
            min: yRange[0],
            max: yRange[1],
            afterFit(scale) { scale.width = marginLeft; },
            afterBuildTicks(scale) { scale.ticks = pressureTicks.map((v) => ({ value: v })); },
            border: { display: false },
            grid: { drawOnChartArea: false, color: "#000", tickLength: 31, tickWidth: 2 },
            ticks: {
              autoSkip: false,
              minRotation: -90,
              maxRotation: -90,
              crossAlign: "center",
              padding: -10,
              color: "#000",
              font: { family: SANS, size: 49 },
              callback: (v, i) => pressureTickLabels[i],
            },
            title: {
              display: true,
              text: "p (Pa)",
              color: "#000",
              font: { family: SANS, size: 50 },
              padding: { top: 25, bottom: 25 },
            },
          },
        },
      },
      plugins: [boxAndLegend],
    });
  }

  makePanel("panelA", { left: 269, right: 1776, top: 151, bottom: 851 }, [-0.0358, 0.9355], [-0.346, 9.354],
    aNumerical, aExperimental, { lineX: 485, textX: 374, rowY: [40, 91] });
  makePanel("panelB", { left: 2060, right: 3552, top: 144, bottom: 837 }, [-0.0358, 0.9358], [-0.408, 9.342],
    bNumerical, bExperimental, { lineX: 481, textX: 371, rowY: [41, 91] });
  makePanel("panelC", { left: 381, right: 1892, top: 1441, bottom: 2143 }, [-0.035, 0.936], [-0.313, 9.357],
    cNumerical, cExperimental, { lineX: 488, textX: 375, rowY: [43, 94] });

  // --- schematic of the three pipe set ups, drawn as a scatter in page pixels ---
  const beamLevels = [1399.5, 1755, 2110];
  const wallRows = [-45, -35, -25, -15, -5, 5, 15, 25, 35, 45];

  function marks(style, radius, rotation, width, fill, data) {
    return {
      data,
      showLine: false,
      clip: false,
      pointStyle: style,
      pointRadius: radius,
      pointRotation: rotation,
      pointBorderWidth: width,
      pointBorderColor: "#000",
      pointBackgroundColor: fill,
    };
  }

  function stroke(width, cap, from, to) {
    return {
      data: [from, to],
      showLine: true,
      borderColor: "#000",
      borderWidth: width,
      borderCapStyle: cap,
      pointRadius: 0,
    };
  }

  const groundOffsets = [-20, -10, 0, 10, 20];
  const rollerOffsets = [-11.3, 11.3];
  const triangles = [], rollers = [], grounds = [], groundHatch = [], anchors = [], leftHatch = [], rightHatch = [];
  const lines = [];

  [supportsA, supportsB, supportsC].forEach(function (supports, i) {
    const y = beamLevels[i];
    const rightEnd = 3410;
    lines.push(stroke(9.5, "butt", { x: 2211.5, y }, { x: rightEnd, y }));
    lines.push(stroke(10, "round", { x: 2211.5, y: y - 45 }, { x: 2211.5, y: y + 45 }));
    wallRows.forEach((r) => leftHatch.push({ x: 2197, y: y + r - 2 }));
    if (i === 0) {
      lines.push(stroke(10, "round", { x: rightEnd, y: y - 45 }, { x: rightEnd, y: y + 45 }));
      wallRows.forEach((r) => rightHatch.push({ x: 3424, y: y + r - 2 }));
    }
    supports.forEach(function (x) {
      triangles.push({ x, y: y + 29.5 });
      rollerOffsets.forEach((o) => rollers.push({ x: x + o, y: y + 48.5 }));
      grounds.push({ x, y: y + 56 });
      groundOffsets.forEach((o) => groundHatch.push({ x: x + o, y: y + 60 }));
    });
  });
  anchorC.forEach(function (x) {
    anchors.push({ x, y: beamLevels[2] + 35.7 });
    grounds.push({ x, y: beamLevels[2] + 55 });
    groundOffsets.forEach((o) => groundHatch.push({ x: x + o, y: beamLevels[2] + 60 }));
  });

  const schematicLabels = [
    { text: "a)", x: 2165, y: 1261, bold: true },
    { text: "b)", x: 2165, y: 1617, bold: true },
    { text: "c)", x: 2165, y: 1972, bold: true },
    { text: "Reservoir", x: 2231, y: 1368 },
    { text: "Reservoir", x: 2231, y: 1723 },
    { text: "Reservoir", x: 2231, y: 2078 },
    { text: "Valve", x: 3311, y: 1368 },
    { text: "Valve", x: 3311, y: 1723 },
    { text: "Valve", x: 3311, y: 2078 },
    { text: "Anchorage", x: 2699, y: 2073 },
  ];

  const labelPlugin = {
    id: "schematicLabels",
    afterDraw(chart) {
      const { ctx, scales } = chart;
      ctx.save();
      ctx.fillStyle = "#000";
      ctx.textBaseline = "alphabetic";
      schematicLabels.forEach(function (l) {
        ctx.font = (l.bold ? "bold 36px " : "33.5px ") + SANS;
        ctx.fillText(l.text, scales.x.getPixelForValue(l.x), scales.y.getPixelForValue(l.y));
      });
      ctx.restore();
    },
  };

  const schematicCanvas = document.getElementById("schematic");
  schematicCanvas.width = 1452;
  schematicCanvas.height = 1215;
  schematicCanvas.style.left = "2130px";
  schematicCanvas.style.top = "1200px";

  new Chart(schematicCanvas.getContext("2d"), {
    type: "scatter",
    data: {
      datasets: lines.concat([
        marks("triangle", 24, 0, 2.8, "rgba(0,0,0,0)", triangles),
        marks("triangle", 28.7, 0, 0, "#000", anchors),
        marks("circle", 6, 0, 2.2, "rgba(0,0,0,0)", rollers),
        marks("line", 22.5, 0, 2.4, "#000", grounds),
        marks("line", 2.6, -60, 2, "#000", groundHatch),
        marks("line", 9.5, 15, 2, "#000", leftHatch),
        marks("line", 9.5, -15, 2, "#000", rightHatch),
      ]),
    },
    options: {
      responsive: false,
      animation: false,
      devicePixelRatio: 1,
      layout: { padding: 0, autoPadding: false },
      plugins: { legend: { display: false }, tooltip: { enabled: false } },
      scales: {
        x: { type: "linear", display: false, min: 2130, max: 3582 },
        y: { type: "linear", display: false, min: 1200, max: 2415, reverse: true },
      },
    },
    plugins: [labelPlugin],
  });
</script>
</body>
</html>
